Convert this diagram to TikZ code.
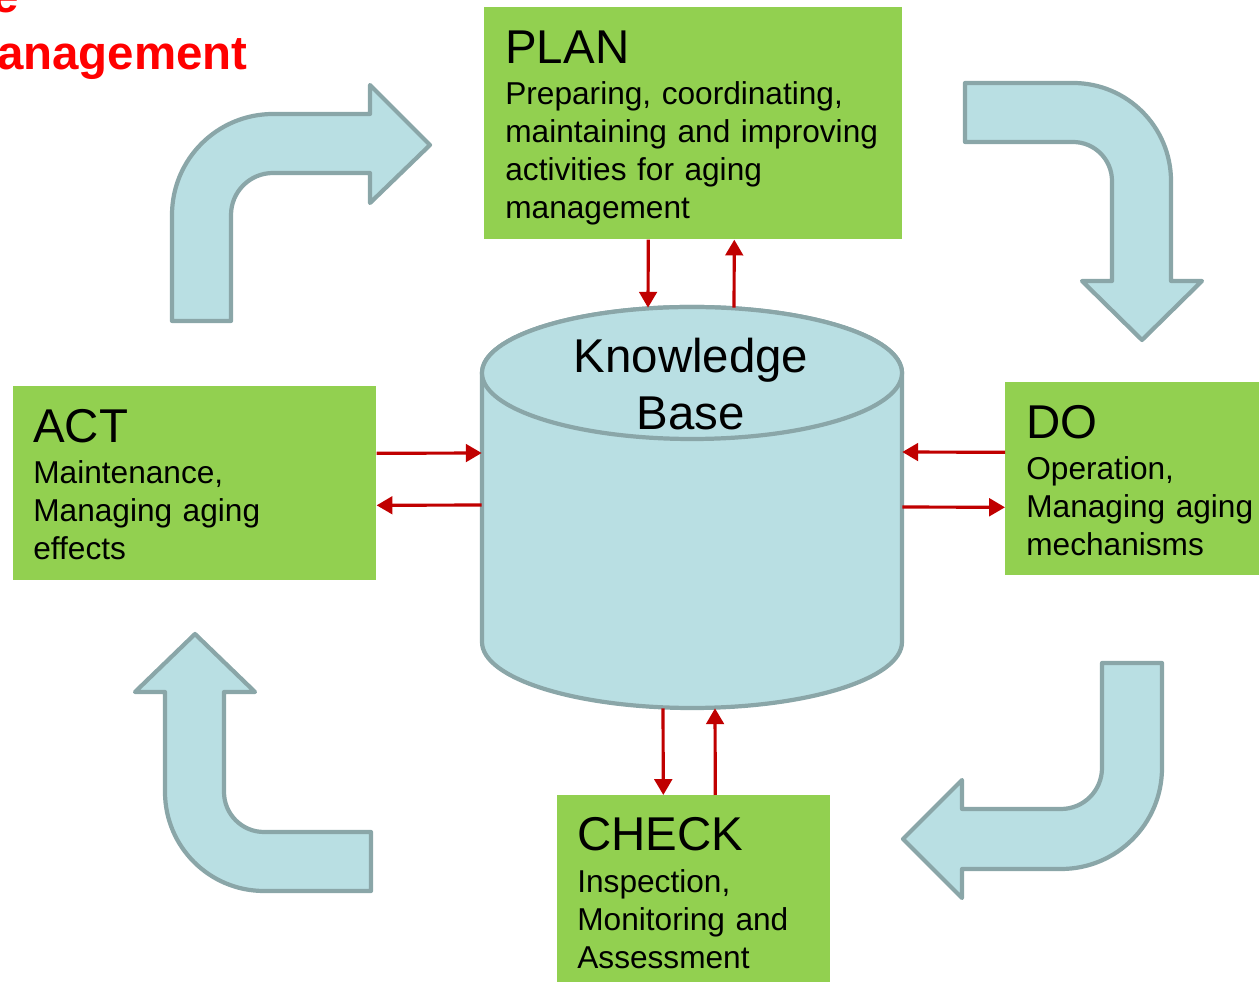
\documentclass[tikz,border=0pt]{standalone}
\usepackage{fontspec}
\setmainfont{Liberation Sans}
\usepackage{tikz}
\usetikzlibrary{arrows.meta}

\definecolor{stagegreen}{HTML}{92D050}
\definecolor{bentfill}{HTML}{B9DFE3}
\definecolor{bentline}{HTML}{8AA6A8}
\definecolor{flowred}{HTML}{C00000}
\definecolor{titlered}{HTML}{FF0000}

\begin{document}
\begin{tikzpicture}[x=0.02cm, y=-0.02cm,
   stagebox/.style={rectangle, fill=stagegreen, draw=none, inner sep=0pt, anchor=north west},
   headtext/.style={anchor=base west, inner sep=0pt, font=\fontsize{27}{32.4}\selectfont},
   bodytext/.style={anchor=base west, inner sep=0pt, align=left, text width=8cm, font=\fontsize{18}{21.6}\selectfont},
   bentarrow/.style={fill=bentfill, draw=bentline, line width=2.4pt, line join=round},
   flow/.style={draw=flowred, line width=1.8pt, -{Triangle[length=9pt,width=10pt]}}]

   \useasboundingbox (0,0) rectangle (1259,982);

   % title, cut by the page edge
   \node[anchor=base east, inner sep=0pt, text=titlered, font=\fontsize{27}{32.4}\selectfont\bfseries] (title1) at (19,13) {e};
   \node[anchor=base east, inner sep=0pt, text=titlered, font=\fontsize{27}{32.4}\selectfont\bfseries] (title2) at (248,70) {anagement};

   % bent arrows
   \draw[bentarrow] (172,321) -- (172,215) arc (180:270:101) -- (370,114) -- (370,85) -- (430,145) -- (370,203) -- (370,173) -- (273,173) arc (270:180:42) -- (231,321) -- cycle;
   \draw[bentarrow] (965,83) -- (1073,83) arc (270:360:98) -- (1171,281) -- (1202,281) -- (1142,340) -- (1082,281) -- (1112,281) -- (1112,181) arc (0:-90:39) -- (965,142) -- cycle;
   \draw[bentarrow] (1102,663) -- (1162,663) -- (1162,768) arc (0:90:101) -- (962,869) -- (962,898) -- (903,839) -- (962,780) -- (962,809) -- (1061,809) arc (90:0:41) -- cycle;
   \draw[bentarrow] (371,832) -- (371,891) -- (264,891) arc (90:180:99) -- (165,692) -- (135,692) -- (195,634) -- (255,692) -- (224,692) -- (224,792) arc (180:90:40) -- cycle;

   % knowledge base
   \draw[bentarrow] (482,373) -- (482,642) arc (180:0:210 and 66) -- (902,373) arc (0:-180:210 and 66) -- cycle;
   \draw[bentarrow] (692,373) ellipse (210 and 66);
   \node[inner sep=0pt, minimum width=8.4cm, minimum height=8.04cm] (kb) at (692,507) {};
   \node[anchor=base, inner sep=0pt, align=center, text width=6cm, font=\fontsize{27}{32.4}\selectfont] (kblabel) at (691,373) {Knowledge\\Base};

   % stages
   \node[stagebox, minimum width=8.36cm, minimum height=4.64cm] (plan) at (484,7) {};
   \node[headtext] (plantitle) at ([shift={(21,57)}]plan.north west) {PLAN};
   \node[bodytext] (plantext) at ([shift={(0,41)}]plantitle.base west) {Preparing, coordinating,\\maintaining and improving\\activities for aging\\management};

   \node[stagebox, minimum width=5.3cm, minimum height=3.86cm] (do) at (1005,382) {};
   \node[headtext] (dotitle) at ([shift={(21,56.5)}]do.north west) {DO};
   \node[bodytext] (dotext) at ([shift={(0,41.5)}]dotitle.base west) {Operation,\\Managing aging\\mechanisms};

   \node[stagebox, minimum width=5.46cm, minimum height=3.8cm] (check) at (557,795) {};
   \node[headtext] (checktitle) at ([shift={(20,56)}]check.north west) {CHECK};
   \node[bodytext] (checktext) at ([shift={(0,41.5)}]checktitle.base west) {Inspection,\\Monitoring and\\Assessment};

   \node[stagebox, minimum width=7.26cm, minimum height=3.88cm] (act) at (13,386) {};
   \node[headtext] (acttitle) at ([shift={(20,57)}]act.north west) {ACT};
   \node[bodytext] (acttext) at ([shift={(0,41)}]acttitle.base west) {Maintenance,\\Managing aging\\effects};

   % exchange with the knowledge base
   \draw[flow] ([shift={(-45,0)}]plan.south) -- ([shift={(-44,2)}]kb.north);
   \draw[flow] ([shift={(42,2)}]kb.north) -- ([shift={(41,0)}]plan.south);
   \draw[flow] ([shift={(0,-30)}]act.east) -- ([shift={(0,-54)}]kb.west);
   \draw[flow] ([shift={(0,-2)}]kb.west) -- ([shift={(0,22)}]act.east);
   \draw[flow] ([shift={(0,-26.5)}]do.west) -- ([shift={(0,-55)}]kb.east);
   \draw[flow] (kb.east) -- ([shift={(0,28.5)}]do.west);
   \draw[flow] ([shift={(-29,0)}]kb.south) -- ([shift={(-30.5,0)}]check.north);
   \draw[flow] ([shift={(21.5,0)}]check.north) -- ([shift={(23,0)}]kb.south);
\end{tikzpicture}
\end{document}
